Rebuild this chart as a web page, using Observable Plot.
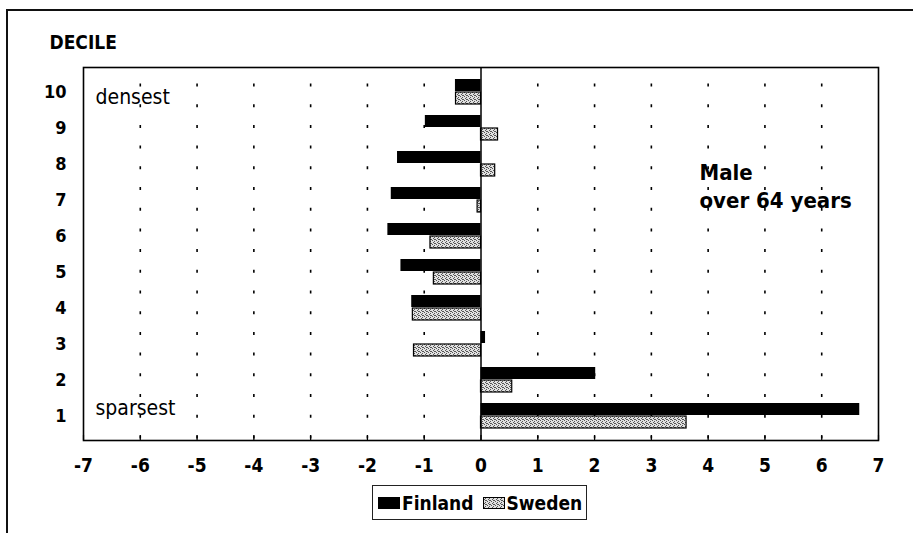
<!DOCTYPE html>
<html>
<head>
<meta charset="utf-8">
<script src="https://cdn.jsdelivr.net/npm/d3@7"></script>
<script src="https://cdn.jsdelivr.net/npm/@observablehq/plot@0.6"></script>
<style>
  html, body { margin: 0; padding: 0; background: #fff; }
  #wrap { position: relative; width: 913px; height: 533px; overflow: hidden; background: #fff;
          font-family: "DejaVu Sans Condensed", "DejaVu Sans", sans-serif; font-stretch: condensed; }
  #border { position: absolute; left: 6px; top: 9px; width: 1200px; height: 1200px;
            border-left: 2px solid #111; border-top: 2px solid #111; }
  #chart { position: absolute; left: 0; top: 0; }
  #legend { position: absolute; left: 372px; top: 485px; width: 215px; height: 35px;
            border: 1px solid #222; box-sizing: border-box; display: flex; align-items: center;
            font-weight: bold; font-size: 19px; color: #000; padding-left: 5px; }
  #legend .sw { display: inline-block; width: 22px; height: 12px; margin-right: 2px; }
  #legend .item { display: flex; align-items: center; margin-right: 9px; }
</style>
</head>
<body>
<div id="wrap">
  <div id="border"></div>
  <div id="chart"></div>
  <div id="legend"></div>
</div>
<script>
// Data, deciles listed top to bottom
const deciles = ["10", "9", "8", "7", "6", "5", "4", "3", "2", "1"];
const finland = [-0.45, -0.98, -1.47, -1.58, -1.64, -1.41, -1.22, 0.08, 2.02, 6.67];
const sweden  = [-0.44, 0.30, 0.25, -0.06, -0.89, -0.83, -1.20, -1.18, 0.55, 3.62];
const series = ["Finland", "Sweden"];
const xTicks = [-7, -6, -5, -4, -3, -2, -1, 0, 1, 2, 3, 4, 5, 6, 7];
const gridTicks = [-6, -5, -4, -3, -2, -1, 1, 2, 3, 4, 5, 6];
const titleText = "Male\nover 64 years";
const axisLabel = "DECILE";

const table = deciles.map((d, i) => ({decile: d, finland: finland[i], sweden: sweden[i]}));

const fontFamily = '"DejaVu Sans Condensed", "DejaVu Sans", sans-serif';

const chart = Plot.plot({
  width: 913,
  height: 533,
  marginLeft: 83,
  marginRight: 35,
  marginTop: 67,
  marginBottom: 93,
  style: {fontFamily, fontStretch: "condensed", background: "transparent", color: "#000"},
  x: {domain: [-7, 7]},
  y: {domain: deciles, padding: 0.3},
  marks: [
    Plot.ruleX(gridTicks, {stroke: "#000", strokeWidth: 1.6, strokeDasharray: "3,17.7", strokeDashoffset: 4.2}),
    Plot.ruleX(xTicks, {stroke: "#000", strokeWidth: 1.2, insetTop: 368}),
    Plot.barX(table, {y: "decile", x: "finland", fill: "#000", insetBottom: 13}),
    Plot.barX(table, {y: "decile", x: "sweden", fill: "url(#stip)", stroke: "#000", strokeWidth: 1.2, insetTop: 13}),
    Plot.ruleX([0], {stroke: "#000", strokeWidth: 1.5}),
    Plot.frame({stroke: "#000", strokeWidth: 1.6}),
    Plot.axisX({ticks: xTicks, tickSize: 0, tickPadding: 18, tickFormat: d => String(d),
                fontSize: 19, fontWeight: "bold", label: null}),
    Plot.axisY({tickSize: 0, tickPadding: 17, fontSize: 18, fontWeight: "bold", label: null}),
    Plot.text([axisLabel], {frameAnchor: "top-left", textAnchor: "start", lineAnchor: "top",
                dx: -34, dy: -32, fontSize: 19, fontWeight: "bold", fill: "#000"}),
    Plot.text(["densest"], {frameAnchor: "top-left", textAnchor: "start", lineAnchor: "middle",
                dx: 12, dy: 29.5, fontSize: 21, fill: "#000"}),
    Plot.text(["sparsest"], {frameAnchor: "bottom-left", textAnchor: "start", lineAnchor: "middle",
                dx: 12, dy: -32.5, fontSize: 21, fill: "#000"}),
    Plot.text([titleText], {frameAnchor: "top-left", textAnchor: "start", lineAnchor: "top",
                dx: 616, dy: 93, fontSize: 22, fontWeight: "bold", lineHeight: 1.27, fill: "#000"})
  ]
});

// stippled fill pattern for Sweden
const defs = d3.select(chart).insert("defs", ":first-child");
const pat = defs.append("pattern").attr("id", "stip").attr("patternUnits", "userSpaceOnUse")
  .attr("width", 4).attr("height", 4);
pat.append("rect").attr("width", 4).attr("height", 4).attr("fill", "#e0e0e0");
[[0,0],[2,1],[1,2],[3,3],[2,3]].forEach(([x, y]) =>
  pat.append("rect").attr("x", x).attr("y", y).attr("width", 1).attr("height", 1).attr("fill", "#555"));

document.getElementById("chart").appendChild(chart);

// legend
const legend = document.getElementById("legend");
const fills = ["#000", "url(#stip)"];
series.forEach((name, i) => {
  const item = document.createElement("span");
  item.className = "item";
  item.innerHTML = `<svg class="sw" width="22" height="12"><rect x="0.5" y="0.5" width="21" height="11" fill="${fills[i]}" stroke="#000" stroke-width="1"/></svg><span>${name}</span>`;
  legend.appendChild(item);
});
</script>
</body>
</html>
